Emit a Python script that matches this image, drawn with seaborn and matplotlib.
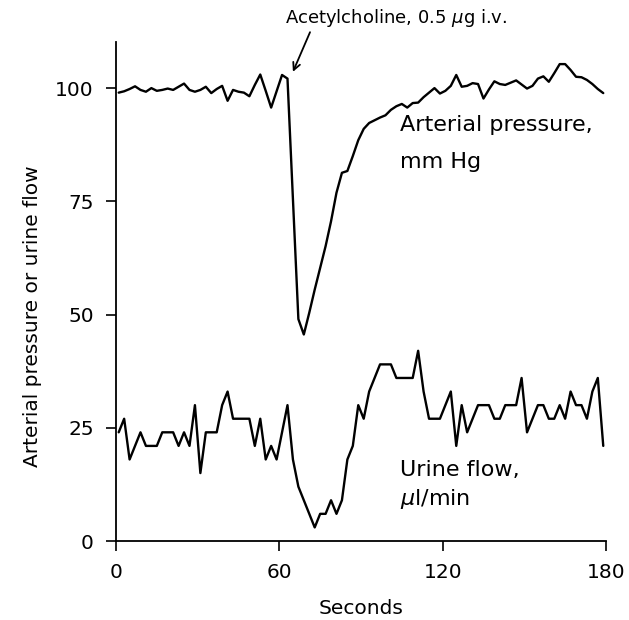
import numpy as np
import pandas as pd
import matplotlib
matplotlib.use("Agg")
import matplotlib.pyplot as plt
import seaborn as sns

# sample times, one reading every 2 s
seconds = list(range(1, 181, 2))

arterial_pressure = [
    99.0, 99.3, 99.8, 100.4, 99.6, 99.2, 100.0, 99.4, 99.6, 99.9,
    99.6, 100.3, 101.0, 99.6, 99.2, 99.6, 100.3, 98.9, 99.8, 100.5,
    97.2, 99.6, 99.2, 99.0, 98.2, 100.7, 103.0, 99.4, 95.7, 99.3,
    102.9, 102.1, 75.5, 49.0, 45.6, 50.4, 55.5, 60.3, 65.1, 70.6,
    76.9, 81.3, 81.7, 85.0, 88.5, 91.0, 92.3, 92.9, 93.5, 94.0,
    95.2, 96.0, 96.5, 95.7, 96.7, 96.8, 98.0, 99.0, 100.0, 98.8,
    99.4, 100.5, 102.9, 100.3, 100.5, 101.1, 100.9, 97.7, 99.7, 101.5,
    100.9, 100.7, 101.2, 101.7, 100.8, 99.9, 100.5, 102.1, 102.6, 101.4,
    103.3, 105.3, 105.3, 104.0, 102.5, 102.4, 101.8, 100.9, 99.8, 98.9,
]

urine_flow = [
    24, 27, 18, 21, 24, 21, 21, 21, 24, 24,
    24, 21, 24, 21, 30, 15, 24, 24, 24, 30,
    33, 27, 27, 27, 27, 21, 27, 18, 21, 18,
    24, 30, 18, 12, 9, 6, 3, 6, 6, 9,
    6, 9, 18, 21, 30, 27, 33, 36, 39, 39,
    39, 36, 36, 36, 36, 42, 33, 27, 27, 27,
    30, 33, 21, 30, 24, 27, 30, 30, 30, 27,
    27, 30, 30, 30, 36, 24, 27, 30, 30, 27,
    27, 30, 27, 33, 30, 30, 27, 33, 36, 21,
]

df = pd.DataFrame({"seconds": seconds, "pressure": arterial_pressure, "urine": urine_flow})

sns.set_style("ticks")
plt.rcParams["font.family"] = ["DejaVu Sans"]
plt.rcParams["text.color"] = "black"
plt.rcParams["axes.labelcolor"] = "black"

fig = plt.figure(figsize=(6.29, 6.20), dpi=100)
ax = fig.add_axes([0.1844, 0.1274, 0.779, 0.805])

sns.lineplot(data=df, x="seconds", y="pressure", color="black", linewidth=1.7, ax=ax)
sns.lineplot(data=df, x="seconds", y="urine", color="black", linewidth=1.7, ax=ax)

ax.set_xlim(0, 180)
ax.set_ylim(0, 110.2)
ax.set_xticks([0, 60, 120, 180])
ax.set_yticks([0, 25, 50, 75, 100])
ax.tick_params(direction="out", length=7, width=1.2, labelsize=14.5, pad=9, colors="black")
sns.despine(ax=ax)
for s in ["left", "bottom"]:
    ax.spines[s].set_linewidth(1.3)
    ax.spines[s].set_color("black")

ax.set_xlabel("Seconds", fontsize=14.5, labelpad=12)
ax.set_ylabel("Arterial pressure or urine flow", fontsize=14.5, labelpad=12)
ax.yaxis.set_label_coords(-0.15, 0.45)

txt = dict(fontsize=16, color="black")
ax.text(104.3, 91.8, "Arterial pressure,", va="center", ha="left", **txt)
ax.text(104.3, 83.6, "mm Hg", va="center", ha="left", **txt)
ax.text(104.3, 15.7, "Urine flow,", va="center", ha="left", **txt)
ax.text(104.3, 9.2, r"$\mu$l/min", va="center", ha="left", **txt)

ax.annotate(r"Acetylcholine, 0.5 $\mu$g i.v.", xy=(65, 103.6), xytext=(62, 115.5),
            ha="left", va="center", annotation_clip=False, fontsize=13,
            arrowprops=dict(arrowstyle="->", color="black", lw=1.3,
                            shrinkA=0, shrinkB=0, relpos=(0.12, 0.0)))

fig.savefig("out.png", dpi=100)
